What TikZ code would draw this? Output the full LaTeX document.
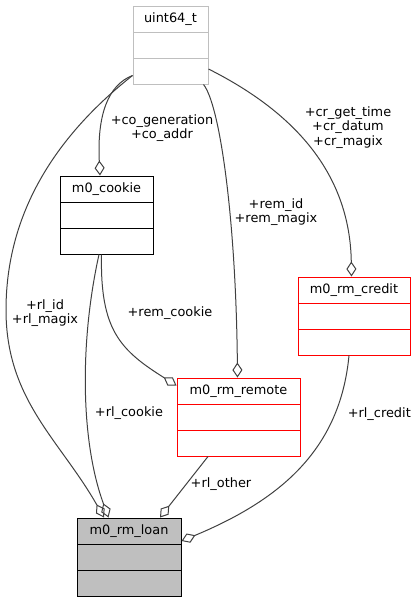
\documentclass[tikz,border=0pt]{standalone}
\usepackage{fontspec}
\setmainfont{DejaVu Sans}
\usetikzlibrary{shapes.multipart,arrows.meta,calc}
\definecolor{edgegray}{HTML}{404040}
\definecolor{boxgray}{HTML}{BFBFBF}
\definecolor{boxred}{HTML}{FF0000}
\newcommand{\rowstrut}{\rule[-9.3pt]{0pt}{25pt}}
\tikzstyle{classbox} = [rectangle split,
rectangle split parts=3,
draw=black, line width=1pt,
inner xsep=0pt, inner ysep=0pt,
anchor=north west,
font=\fontsize{12.9}{14.3}\selectfont]
\tikzstyle{usage} = [-{Diamond[open,length=15pt,width=10pt]}, draw=edgegray, line width=1pt]
\tikzstyle{role} = [align=center, inner sep=0pt, font=\fontsize{12.9}{14.3}\selectfont]

\begin{document}
\begin{tikzpicture}[
  x=1pt, y=-1pt, % pixel grid, y going down
]
  \useasboundingbox (0,0) rectangle (418,600);

  \node[classbox, draw=boxgray, minimum width=75pt] (uint64) at (132.5,5.5)
    {uint64\_t\rowstrut\nodepart{two}\rowstrut\nodepart{three}\rowstrut};
  \node[classbox, minimum width=93pt] (cookie) at (59.5,175.5)
    {m0\_cookie\rowstrut\nodepart{two}\rowstrut\nodepart{three}\rowstrut};
  \node[classbox, draw=boxred, minimum width=112pt] (credit) at (297.5,276.5)
    {m0\_rm\_credit\rowstrut\nodepart{two}\rowstrut\nodepart{three}\rowstrut};
  \node[classbox, draw=boxred, minimum width=123pt] (remote) at (176.5,377.5)
    {m0\_rm\_remote\rowstrut\nodepart{two}\rowstrut\nodepart{three}\rowstrut};
  \node[classbox, fill=boxgray, minimum width=104pt] (loan) at (76.5,517.5)
    {m0\_rm\_loan\rowstrut\nodepart{two}\rowstrut\nodepart{three}\rowstrut};

  % members of type uint64_t
  \draw[usage] ($(uint64.south west)+(0,-9)$) .. controls (108,85) and (97,115) .. ($(cookie.north)+(-6.5,0)$);
  \draw[usage] ($(uint64.south west)+(0,-9)$) .. controls (70,125) and (6,200) .. (6,310)
    .. controls (6,400) and (60,440) .. ($(loan.north)+(-25,0)$);
  \draw[usage] ($(uint64.south east)+(-5,0)$) .. controls (220,105) and (236,220) .. ($(remote.north)+(-1,0)$);
  \draw[usage] ($(uint64.south east)+(0,-15.5)$) .. controls (290,110) and (350,170) .. ($(credit.north)+(-2.5,0)$);

  % the other members
  \draw[usage] ($(cookie.south)+(-5,0)$) .. controls (100,330) and (120,350) .. ($(remote.north west)+(0,8)$);
  \draw[usage] ($(cookie.south)+(-7.5,0)$) .. controls (80,340) and (80,440) .. ($(loan.north)+(-20.5,0)$);
  \draw[usage] ($(remote.south)+(-30.5,0)$) -- ($(loan.north)+(31,0)$);
  \draw[usage] ($(credit.south)+(-5,0)$) .. controls (340,450) and (280,500) .. ($(loan.north east)+(0,23.5)$);

  \node[role] (co)      at (162,128)   {+co\_generation\\+co\_addr};
  \node[role] (cr)      at (348,127.6) {+cr\_get\_time\\+cr\_datum\\+cr\_magix};
  \node[role] (rem)     at (276,212)   {+rem\_id\\+rem\_magix};
  \node[role] (rlid)    at (45,313)    {+rl\_id\\+rl\_magix};
  \node[role] (remck)   at (170,313.3) {+rem\_cookie};
  \node[role] (rlck)    at (129,413)   {+rl\_cookie};
  \node[role] (rlother) at (221,484)   {+rl\_other};
  \node[role] (rlcr)    at (379.3,414.3) {+rl\_credit};
\end{tikzpicture}
\end{document}
